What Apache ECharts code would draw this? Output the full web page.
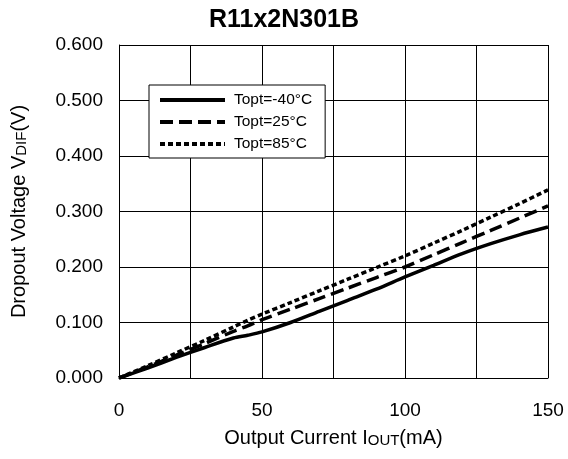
<!DOCTYPE html>
<html>
<head>
<meta charset="utf-8">
<script src="https://cdn.jsdelivr.net/npm/echarts@6/dist/echarts.min.js"></script>
<style>html,body{margin:0;padding:0;background:#fff;}#c{width:568px;height:459px;}</style>
</head>
<body>
<div id="c"></div>
<script>
var currents = [0, 10, 20, 30, 40, 45, 50, 60, 70, 80, 90, 100, 110, 120, 130, 140, 150];
var vMinus40 = [0, 0.018, 0.037, 0.055, 0.072, 0.077, 0.083, 0.100, 0.120, 0.140, 0.160, 0.182, 0.203, 0.224, 0.242, 0.258, 0.272];
var v25 = [0, 0.020, 0.041, 0.062, 0.084, 0.094, 0.105, 0.124, 0.143, 0.162, 0.181, 0.200, 0.222, 0.244, 0.266, 0.288, 0.310];
var v85 = [0, 0.022, 0.045, 0.068, 0.092, 0.104, 0.115, 0.136, 0.157, 0.178, 0.199, 0.220, 0.243, 0.266, 0.290, 0.314, 0.339];
var seriesNames = ['Topt=-40°C', 'Topt=25°C', 'Topt=85°C'];
var titleText = 'R11x2N301B';

function pairs(ys) { return currents.map(function (x, i) { return [x, ys[i]]; }); }

var font = 'Liberation Sans, Arial, Helvetica, sans-serif';
var chart = echarts.init(document.getElementById('c'));
chart.setOption({
  animation: false,
  backgroundColor: '#fff',
  title: {
    text: titleText, left: 'center', top: 3,
    textStyle: { fontFamily: font, fontSize: 25, fontWeight: 'bold', color: '#000' }
  },
  grid: { left: 119, right: 20, top: 45, bottom: 81, containLabel: false },
  legend: {
    orient: 'vertical', left: 149, top: 85,
    backgroundColor: '#fff', borderColor: '#000', borderWidth: 1,
    padding: [7, 13, 6, 9],
    itemWidth: 65, itemHeight: 14, itemGap: 6,
    itemStyle: { opacity: 0, borderWidth: 0 },
    lineStyle: { width: 4 },
    textStyle: { fontFamily: font, fontSize: 15.5, color: '#000', padding: [0, 0, 0, 4] },
    data: seriesNames
  },
  xAxis: {
    type: 'value', min: 0, max: 150, interval: 25,
    axisLine: { show: true, lineStyle: { color: '#000', width: 1 } },
    axisTick: { show: false },
    splitLine: { show: true, lineStyle: { color: '#000', width: 1 } },
    axisLabel: {
      margin: 23, fontFamily: font, fontSize: 19, color: '#000',
      formatter: function (v) { return v % 50 === 0 ? String(v) : ''; }
    },
    name: 'Output Current I{s|OUT}(mA)',
    nameLocation: 'middle', nameGap: 50,
    nameTextStyle: {
      fontFamily: font, fontSize: 20, color: '#000',
      rich: { s: { fontFamily: font, fontSize: 15, color: '#000', verticalAlign: 'bottom' } }
    }
  },
  yAxis: {
    type: 'value', min: 0, max: 0.6, interval: 0.1,
    axisLine: { show: true, lineStyle: { color: '#000', width: 1 } },
    axisTick: { show: false },
    splitLine: { show: true, lineStyle: { color: '#000', width: 1 } },
    axisLabel: {
      margin: 16, fontFamily: font, fontSize: 19, color: '#000',
      formatter: function (v) { return v.toFixed(3); }
    },
    name: 'Dropout Voltage V{s|DIF}(V)',
    nameLocation: 'middle', nameGap: 90,
    nameTextStyle: {
      fontFamily: font, fontSize: 20, color: '#000',
      rich: { s: { fontFamily: font, fontSize: 15, color: '#000', verticalAlign: 'bottom' } }
    }
  },
  series: [
    { name: seriesNames[0], type: 'line', data: pairs(vMinus40), symbol: 'none', smooth: 0.3,
      lineStyle: { color: '#000', width: 3.5, type: 'solid' }, itemStyle: { color: '#000' } },
    { name: seriesNames[1], type: 'line', data: pairs(v25), symbol: 'none', smooth: 0.3,
      lineStyle: { color: '#000', width: 3.5, type: [13, 6] }, itemStyle: { color: '#000' } },
    { name: seriesNames[2], type: 'line', data: pairs(v85), symbol: 'none', smooth: 0.3,
      lineStyle: { color: '#000', width: 3.5, type: [5, 3] }, itemStyle: { color: '#000' } }
  ]
});
</script>
</body>
</html>
